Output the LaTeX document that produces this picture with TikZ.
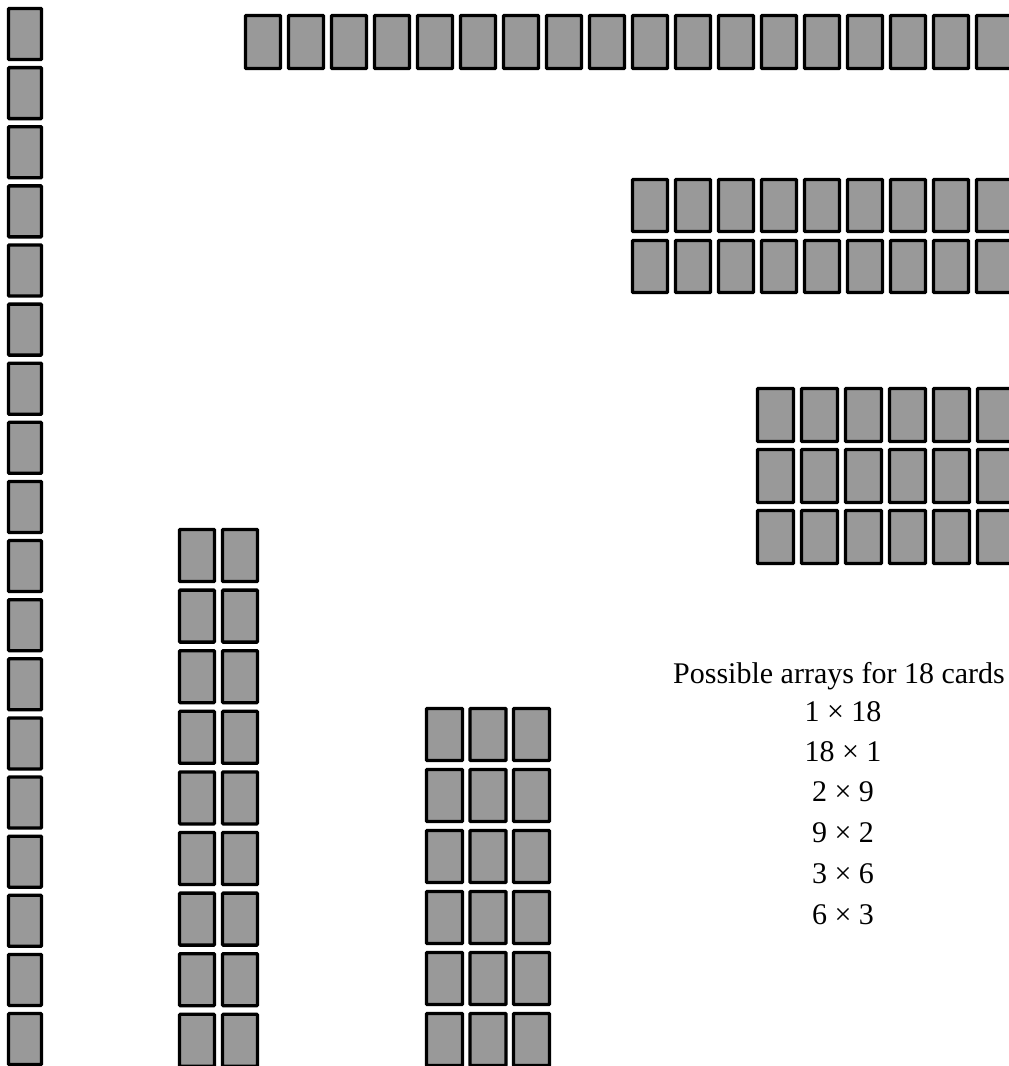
\documentclass[tikz,border=0pt]{standalone}
\usepackage{fontspec}
\setmainfont{Liberation Serif}
\definecolor{cardgray}{HTML}{999999}
\tikzset{
  card/.style={draw=black, fill=cardgray, line width=3.3pt, rounded corners=0.8pt},
  lbl/.style={anchor=base, inner sep=0pt, font=\fontsize{30}{34}\selectfont}
}
\begin{document}
\begin{tikzpicture}[x=1pt,y=-1pt]
\useasboundingbox (0,0) rectangle (1009,1066);
\clip (0,0) rectangle (1009,1066);
% 18 x 1 column (left)
\foreach \i in {0,...,17}{
  \draw[card] (8.5, {8.5+\i*59.12}) rectangle ++(33,51);
}
% 1 x 18 row (top)
\foreach \i in {0,...,17}{
  \draw[card] ({245.5+\i*43}, 15.5) rectangle ++(35,53);
}
% 2 x 9 array
\foreach \r in {0,1}{
  \foreach \i in {0,...,8}{
    \draw[card] ({632.5+\i*43}, {179.5+\r*61}) rectangle ++(35,52);
  }
}
% 3 x 6 array
\foreach \r in {0,1,2}{
  \foreach \i in {0,...,5}{
    \draw[card] ({757.5+\i*44}, {388.5+\r*61}) rectangle ++(36,53);
  }
}
% 9 x 2 array
\foreach \r in {0,...,8}{
  \foreach \i in {0,1}{
    \draw[card] ({179.5+\i*43}, {529.5+\r*60.6}) rectangle ++(35,52);
  }
}
% 6 x 3 array
\foreach \r in {0,...,5}{
  \foreach \i in {0,1,2}{
    \draw[card] ({426.5+\i*43.5}, {708.5+\r*61}) rectangle ++(36,52);
  }
}
% labels
\node[lbl] (title) at (839,683) {Possible arrays for 18 cards};
\node[lbl] (a1) at (843,721) {1 × 18};
\node[lbl] (a2) at (843,761) {18 × 1};
\node[lbl] (a3) at (843,801) {2 × 9};
\node[lbl] (a4) at (843,842) {9 × 2};
\node[lbl] (a5) at (843,883) {3 × 6};
\node[lbl] (a6) at (843,924) {6 × 3};
\end{tikzpicture}
\end{document}
